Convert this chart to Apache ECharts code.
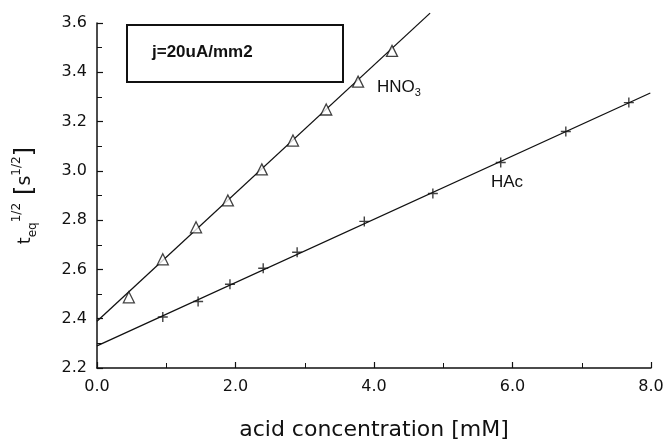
<!DOCTYPE html>
<html><head><meta charset="utf-8">
<script src="https://cdn.jsdelivr.net/npm/echarts@6/dist/echarts.min.js"></script>
<style>html,body{margin:0;padding:0;background:#fff}#c{width:669px;height:446px}</style>
</head><body><div id="c"></div>
<script>
// Data
const hno3X = [0.46, 0.95, 1.43, 1.89, 2.38, 2.83, 3.31, 3.77, 4.26];
const hno3Y = [2.487, 2.641, 2.771, 2.880, 3.006, 3.123, 3.249, 3.362, 3.487];
const hacX = [0.95, 1.46, 1.92, 2.40, 2.89, 3.86, 4.85, 5.83, 6.77, 7.68];
const hacY = [2.407, 2.470, 2.540, 2.605, 2.670, 2.795, 2.908, 3.034, 3.160, 3.277];
// Fitted straight lines (end points)
const hno3FitX = [0, 4.81];
const hno3FitY = [2.39, 3.64];
const hacFitX = [0, 7.99];
const hacFitY = [2.29, 3.316];
const xTicks = [0, 2, 4, 6, 8];
const yTicks = [2.2, 2.4, 2.6, 2.8, 3.0, 3.2, 3.4, 3.6];

const zip = (a, b) => a.map((v, i) => [v, b[i]]);
const FONT = 'DejaVu Sans';
const NARROW = 'Liberation Sans';
const INK = '#111';

const chart = echarts.init(document.getElementById('c'), null, {renderer: 'canvas'});
chart.setOption({
  animation: false,
  backgroundColor: '#fff',
  grid: {left: 97, right: 18, top: 23, bottom: 78, containLabel: false},
  xAxis: {
    type: 'value', min: xTicks[0], max: xTicks[xTicks.length - 1], interval: 2,
    name: 'acid concentration [mM]', nameLocation: 'middle', nameGap: 51,
    nameTextStyle: {fontFamily: FONT, fontSize: 22, color: INK},
    axisLine: {show: true, lineStyle: {color: INK, width: 1.5}},
    axisTick: {show: true, inside: true, length: 6, lineStyle: {color: INK, width: 1.2}},
    minorTick: {show: true, splitNumber: 2, length: 5, lineStyle: {color: INK, width: 1}},
    axisLabel: {formatter: v => v.toFixed(1), fontFamily: FONT, fontSize: 16, color: INK, margin: 11},
    splitLine: {show: false}
  },
  yAxis: {
    type: 'value', min: yTicks[0], max: yTicks[yTicks.length - 1], interval: 0.2,
    name: '{t|t}{sub|eq}{sup|1/2}  {br|[}{s|s}{sup|1/2}{br|]}',
    nameLocation: 'middle', nameGap: 58, nameRotate: 90,
    nameTextStyle: {
      fontFamily: FONT, color: INK,
      rich: {
        t: {fontFamily: FONT, fontSize: 18, color: INK, lineHeight: 28, verticalAlign: 'middle'},
        sub: {fontFamily: FONT, fontSize: 12, color: INK, lineHeight: 28, verticalAlign: 'bottom'},
        sup: {fontFamily: FONT, fontSize: 12, color: INK, lineHeight: 28, verticalAlign: 'top'},
        s: {fontFamily: FONT, fontSize: 19, color: INK, lineHeight: 28, verticalAlign: 'middle'},
        br: {fontFamily: FONT, fontSize: 25, color: INK, lineHeight: 28, verticalAlign: 'middle'}
      }
    },
    axisLine: {show: true, lineStyle: {color: INK, width: 1.5}},
    axisTick: {show: true, inside: true, length: 6, lineStyle: {color: INK, width: 1.2}},
    minorTick: {show: true, splitNumber: 2, length: 5, lineStyle: {color: INK, width: 1}},
    axisLabel: {formatter: v => v.toFixed(1), fontFamily: FONT, fontSize: 16, color: INK, margin: 10},
    splitLine: {show: false}
  },
  graphic: [
    {type: 'rect', left: 126, top: 24, shape: {width: 216, height: 57},
     style: {fill: '#fff', stroke: INK, lineWidth: 2}, z: 10},
    {type: 'text', left: 152, top: 44, z: 11,
     style: {text: 'j=20uA/mm2', font: 'bold 17px "Liberation Sans", Arial, sans-serif', fill: INK}},
    {type: 'text', left: 377, top: 79, z: 11,
     style: {text: '{m|HNO}{d|3}', fill: INK,
       rich: {m: {fontFamily: NARROW, fontSize: 17, color: INK, lineHeight: 22, verticalAlign: 'middle'},
              d: {fontFamily: NARROW, fontSize: 11, color: INK, lineHeight: 22, verticalAlign: 'bottom'}}}},
    {type: 'text', left: 491, top: 174, z: 11,
     style: {text: 'HAc', font: '17px "Liberation Sans"', fill: INK}}
  ],
  series: [
    {type: 'line', data: zip(hno3FitX, hno3FitY), showSymbol: false, clip: false,
     lineStyle: {color: INK, width: 1.3}, z: 2, silent: true},
    {type: 'line', data: zip(hacFitX, hacFitY), showSymbol: false, clip: false,
     lineStyle: {color: INK, width: 1.3}, z: 2, silent: true},
    {type: 'scatter', name: 'HNO3', data: zip(hno3X, hno3Y), symbol: 'triangle', symbolSize: 11,
     itemStyle: {color: '#fff', borderColor: INK, borderWidth: 1.3}, z: 5},
    {type: 'scatter', name: 'HAc', data: zip(hacX, hacY), symbol: 'path://M0,5L10,5M5,0L5,10', symbolSize: 10,
     itemStyle: {color: 'none', borderColor: INK, borderWidth: 1.4}, z: 5}
  ]
});
</script>
</body></html>
